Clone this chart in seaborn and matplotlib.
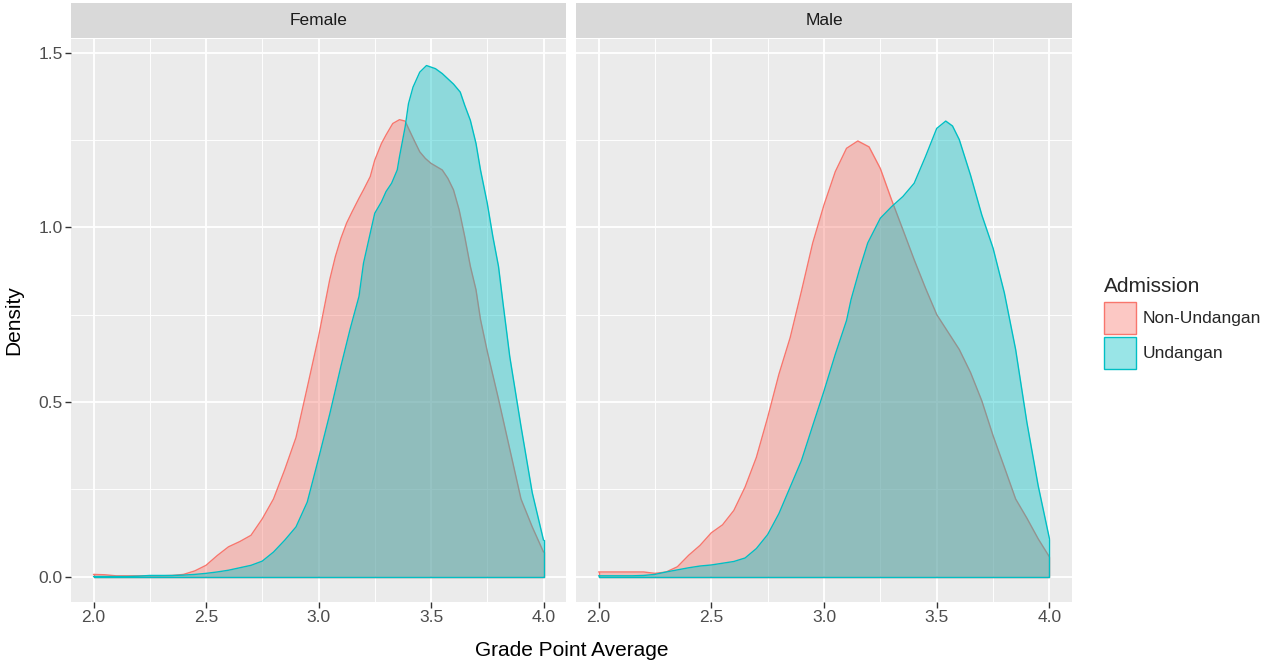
import matplotlib
matplotlib.use("Agg")
import matplotlib.pyplot as plt
from matplotlib.patches import Patch
from matplotlib.colors import to_rgba
from matplotlib.ticker import MultipleLocator
import pandas as pd
import seaborn as sns

# density curves (x = GPA, y = density)
gpa_female_non = [2.00, 2.05, 2.10, 2.15, 2.20, 2.25, 2.30, 2.35, 2.40, 2.45, 2.50, 2.55, 2.60, 2.65,
                  2.70, 2.75, 2.80, 2.85, 2.90, 2.95, 3.00, 3.05, 3.075, 3.10, 3.125, 3.15, 3.18, 3.20,
                  3.23, 3.25, 3.28, 3.30, 3.33, 3.36, 3.385, 3.40, 3.425, 3.45, 3.475, 3.50, 3.55,
                  3.575, 3.60, 3.625, 3.65, 3.675, 3.70, 3.72, 3.75, 3.80, 3.85, 3.90, 3.95, 4.00]
dens_female_non = [0.006, 0.005, 0.002, 0.002, 0.002, 0.002, 0.002, 0.003, 0.006, 0.016, 0.032, 0.060,
                   0.085, 0.100, 0.118, 0.165, 0.222, 0.306, 0.398, 0.541, 0.686, 0.850, 0.916, 0.969,
                   1.012, 1.045, 1.083, 1.107, 1.145, 1.192, 1.240, 1.264, 1.297, 1.308, 1.304, 1.283,
                   1.249, 1.216, 1.197, 1.183, 1.164, 1.140, 1.107, 1.050, 0.973, 0.888, 0.821, 0.736,
                   0.645, 0.508, 0.365, 0.222, 0.142, 0.070]

gpa_female_und = [2.00, 2.05, 2.10, 2.15, 2.20, 2.25, 2.30, 2.35, 2.40, 2.45, 2.50, 2.55, 2.60, 2.65,
                  2.70, 2.75, 2.80, 2.85, 2.90, 2.95, 3.00, 3.05, 3.10, 3.14, 3.15, 3.18, 3.20, 3.23,
                  3.25, 3.28, 3.30, 3.325, 3.35, 3.36, 3.385, 3.40, 3.42, 3.45, 3.48, 3.52, 3.55, 3.60,
                  3.63, 3.65, 3.675, 3.70, 3.72, 3.75, 3.775, 3.80, 3.82, 3.835, 3.85, 3.90, 3.95, 4.00]
dens_female_und = [0.000, 0.000, 0.000, 0.000, 0.001, 0.003, 0.003, 0.003, 0.004, 0.006, 0.009, 0.013,
                   0.018, 0.025, 0.032, 0.044, 0.070, 0.104, 0.142, 0.213, 0.337, 0.465, 0.603, 0.707,
                   0.731, 0.802, 0.897, 0.983, 1.040, 1.073, 1.102, 1.126, 1.164, 1.202, 1.287, 1.354,
                   1.401, 1.444, 1.463, 1.454, 1.440, 1.410, 1.387, 1.349, 1.306, 1.240, 1.164, 1.069,
                   0.973, 0.888, 0.783, 0.707, 0.630, 0.430, 0.240, 0.104]

gpa_male_non = [2.00, 2.05, 2.10, 2.15, 2.20, 2.25, 2.30, 2.35, 2.40, 2.45, 2.50, 2.55, 2.60, 2.65,
                2.70, 2.75, 2.80, 2.85, 2.90, 2.95, 3.00, 3.05, 3.10, 3.15, 3.20, 3.25, 3.30, 3.35,
                3.40, 3.45, 3.50, 3.55, 3.60, 3.65, 3.70, 3.75, 3.80, 3.85, 3.90, 3.95, 4.00]
dens_male_non = [0.013, 0.013, 0.013, 0.013, 0.013, 0.009, 0.013, 0.028, 0.061, 0.089, 0.125, 0.148,
                 0.189, 0.256, 0.341, 0.455, 0.579, 0.684, 0.817, 0.955, 1.064, 1.159, 1.226, 1.247,
                 1.230, 1.168, 1.078, 0.993, 0.907, 0.826, 0.750, 0.700, 0.650, 0.584, 0.503, 0.403,
                 0.313, 0.222, 0.167, 0.108, 0.056]

gpa_male_und = [2.00, 2.05, 2.10, 2.15, 2.20, 2.25, 2.30, 2.35, 2.40, 2.45, 2.50, 2.55, 2.60, 2.65,
                2.70, 2.75, 2.80, 2.85, 2.90, 2.95, 3.00, 3.05, 3.10, 3.12, 3.157, 3.194, 3.25, 3.30,
                3.35, 3.40, 3.45, 3.50, 3.54, 3.57, 3.60, 3.65, 3.70, 3.75, 3.80, 3.85, 3.90, 3.95,
                4.00]
dens_male_und = [0.002, 0.002, 0.002, 0.002, 0.003, 0.006, 0.013, 0.019, 0.025, 0.030, 0.033, 0.038,
                 0.043, 0.053, 0.080, 0.120, 0.180, 0.256, 0.332, 0.432, 0.531, 0.636, 0.733, 0.793,
                 0.878, 0.955, 1.026, 1.059, 1.088, 1.126, 1.202, 1.283, 1.304, 1.290, 1.251, 1.149,
                 1.035, 0.940, 0.812, 0.650, 0.441, 0.260, 0.108]

genders = ["Female", "Male"]
admissions = ["Non-Undangan", "Undangan"]
palette = {"Non-Undangan": "#F8766D", "Undangan": "#00BFC4"}

curves = {
    ("Female", "Non-Undangan"): (gpa_female_non, dens_female_non),
    ("Female", "Undangan"): (gpa_female_und, dens_female_und),
    ("Male", "Non-Undangan"): (gpa_male_non, dens_male_non),
    ("Male", "Undangan"): (gpa_male_und, dens_male_und),
}
frames = []
for (g, a), (xs, ys) in curves.items():
    frames.append(pd.DataFrame({"Gender": g, "Admission": a, "gpa": xs, "density": ys}))
df = pd.concat(frames, ignore_index=True)

sns.set_theme(style="darkgrid", rc={"axes.facecolor": "#EBEBEB", "grid.color": "white"})
plt.rcParams["font.family"] = ["Liberation Sans", "DejaVu Sans"]

W, H = 1266, 663
fig = plt.figure(figsize=(W / 100, H / 100), dpi=100)
fig.patch.set_facecolor("white")

panels = [(71, 566), (576, 1072)]
top, bottom = 39, 602
axes = []
for i, (g, (l, r)) in enumerate(zip(genders, panels)):
    ax = fig.add_axes([l / W, 1 - bottom / H, (r - l) / W, (bottom - top) / H],
                      sharey=axes[0] if axes else None)
    axes.append(ax)
    sub = df[df["Gender"] == g]
    for k, a in enumerate(admissions):
        d = sub[sub["Admission"] == a]
        c = palette[a]
        x = d["gpa"].tolist()
        y = d["density"].tolist()
        ax.fill_between(x, y, 0, color=c, alpha=0.4, lw=0, zorder=2 + 2 * k)
        sns.lineplot(data=d, x="gpa", y="density", color=c, lw=1.0, ax=ax,
                     sort=False, estimator=None, zorder=3 + 2 * k)
        # close the density polygon: right edge, baseline, left edge
        ax.plot([x[-1], x[-1], x[0], x[0]], [y[-1], 0, 0, y[0]], color=c, lw=1.0,
                zorder=3 + 2 * k)

    ax.set_xlim(1.9, 4.1)
    ax.set_ylim(-0.073, 1.539)
    ax.xaxis.set_major_locator(MultipleLocator(0.5))
    ax.xaxis.set_minor_locator(MultipleLocator(0.25))
    ax.yaxis.set_major_locator(MultipleLocator(0.5))
    ax.yaxis.set_minor_locator(MultipleLocator(0.25))
    ax.set_xticklabels([f"{v:.1f}" for v in ax.get_xticks()])
    ax.grid(which="major", color="white", lw=1.3)
    ax.grid(which="minor", color="white", lw=0.65)
    ax.tick_params(which="major", bottom=True, left=(i == 0), length=4, width=1,
                   color="#333333", labelcolor="#4D4D4D", labelsize=12.5, pad=2)
    ax.tick_params(which="minor", length=0)
    for s in ax.spines.values():
        s.set_visible(False)
    ax.set_xlabel("")
    ax.set_ylabel("")
    if i == 1:
        ax.tick_params(labelleft=False)
    else:
        ax.set_yticklabels([f"{v:.1f}" for v in ax.get_yticks()])

    # facet strip
    sax = fig.add_axes([l / W, 1 - 38 / H, (r - l) / W, 35 / H])
    sax.set_facecolor("#D9D9D9")
    sax.set_xticks([])
    sax.set_yticks([])
    for s in sax.spines.values():
        s.set_visible(False)
    sax.grid(False)
    sax.text(0.5, 0.5, g, ha="center", va="center", fontsize=12.5, color="#1A1A1A",
             transform=sax.transAxes)

fig.text((71 + 1072) / 2 / W, 1 - 650 / H, "Grade Point Average", ha="center", va="center",
         fontsize=15, color="black")
fig.text(14 / W, 1 - 320 / H, "Density", ha="center", va="center", rotation=90,
         fontsize=15, color="black")

handles = [Patch(facecolor=to_rgba(palette[a], 0.4), edgecolor=palette[a], lw=1.0)
           for a in admissions]
leg = fig.legend(handles, admissions, title="Admission", loc="upper left",
                 bbox_to_anchor=(1104 / W, 1 - 277 / H), frameon=False, fontsize=12.5,
                 title_fontsize=15, handlelength=1.85, handleheight=2.45, labelspacing=0.17,
                 handletextpad=0.35, borderpad=0, borderaxespad=0)
leg._legend_box.align = "left"
leg._legend_box.sep = 4.3  # a little more room under the title

fig.savefig("out.png", dpi=100)
